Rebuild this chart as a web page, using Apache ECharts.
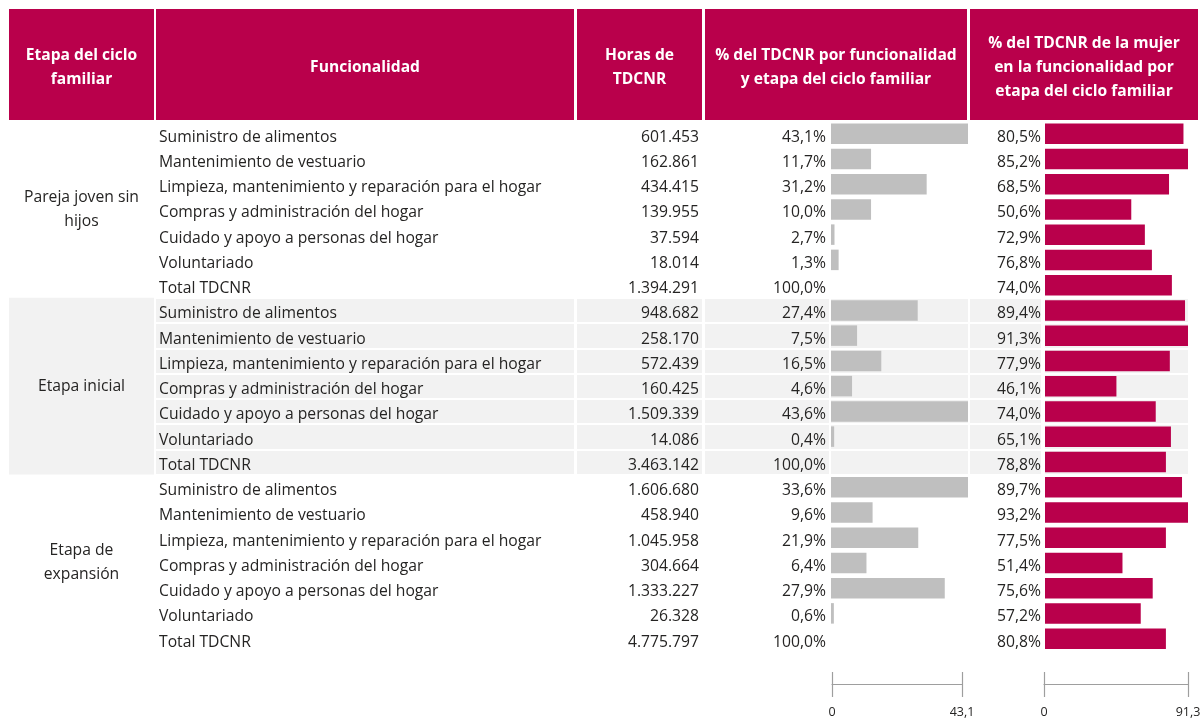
<!DOCTYPE html>
<html>
<head>
<meta charset="utf-8">
<script src="https://cdn.jsdelivr.net/npm/echarts@6/dist/echarts.min.js"></script>
<style>
  html, body { margin: 0; padding: 0; background: #fff; }
  #chart { width: 1202px; height: 718px; }
</style>
</head>
<body>
<div id="chart"></div>
<script>
// datos
const encabezados = [
  'Etapa del ciclo\nfamiliar',
  'Funcionalidad',
  'Horas de\nTDCNR',
  '% del TDCNR por funcionalidad\ny etapa del ciclo familiar',
  '% del TDCNR de la mujer\nen la funcionalidad por\netapa del ciclo familiar'
];
const etapas = ['Pareja joven sin\nhijos', 'Etapa inicial', 'Etapa de\nexpansión'];
const funcionalidades = [
  'Suministro de alimentos',
  'Mantenimiento de vestuario',
  'Limpieza, mantenimiento y reparación para el hogar',
  'Compras y administración del hogar',
  'Cuidado y apoyo a personas del hogar',
  'Voluntariado',
  'Total TDCNR'
];
const horas = [
  [601453, 162861, 434415, 139955, 37594, 18014, 1394291],
  [948682, 258170, 572439, 160425, 1509339, 14086, 3463142],
  [1606680, 458940, 1045958, 304664, 1333227, 26328, 4775797]
];
const pctFuncionalidad = [
  [43.1, 11.7, 31.2, 10.0, 2.7, 1.3, 100.0],
  [27.4, 7.5, 16.5, 4.6, 43.6, 0.4, 100.0],
  [33.6, 9.6, 21.9, 6.4, 27.9, 0.6, 100.0]
];
const pctMujer = [
  [80.5, 85.2, 68.5, 50.6, 72.9, 76.8, 74.0],
  [89.4, 91.3, 77.9, 46.1, 74.0, 65.1, 78.8],
  [89.7, 93.2, 77.5, 51.4, 75.6, 57.2, 80.8]
];
// largo de las barras (escala propia de cada etapa)
const barraFuncionalidad = [
  [43.1, 12.6, 30.1, 12.6, 1.1, 2.4, null],
  [27.6, 8.3, 16.0, 6.7, 43.6, 1.0, null],
  [33.6, 10.2, 21.4, 8.7, 27.9, 0.7, null]
];
const barraMujer = [
  [82.5, 85.2, 73.9, 51.4, 59.5, 63.7, 75.6],
  [89.4, 91.3, 79.7, 45.6, 70.7, 80.4, 77.2],
  [89.3, 93.2, 78.8, 50.5, 70.2, 62.4, 78.8]
];
const ejeFuncionalidad = [0, 43.1];
const ejeMujer = [0, 91.3];

const ROSA = '#b9004b';
const GRIS = '#bfbfbf';
const FONDO = '#f2f2f2';
const TXT = '#252423';
const FONT = '"Open Sans", sans-serif';
const FS = 15.7;
const RH = 25.25;
const T0 = 121;
const GH = RH * 7;
const DY = 3.5; // el texto va un poco más abajo que el centro de la fila

const fmtHoras = (v) => String(v).replace(/\B(?=(\d{3})+(?!\d))/g, '.');
const fmtPct = (v) => v.toFixed(1).replace('.', ',') + '%';

const grid = [];
const xAxis = [];
const yAxis = [];
const series = [];

function addGrid(g, xa, ya) {
  grid.push(Object.assign({ outerBoundsMode: 'none', containLabel: false }, g));
  const i = grid.length - 1;
  xAxis.push(Object.assign({ gridIndex: i }, xa));
  yAxis.push(Object.assign({ gridIndex: i }, ya));
  return i;
}

const hiddenX = { type: 'value', show: false };

function rowAxis(data, shaded) {
  return {
    type: 'category', data, inverse: true,
    axisLine: { show: false }, axisTick: { show: false }, axisLabel: { show: false },
    splitLine: { show: shaded, interval: 0, lineStyle: { color: '#fff', width: 2 } }
  };
}

function textAxis(data, position, align, margin) {
  return {
    type: 'category', data, inverse: true, position,
    axisLine: { show: false }, axisTick: { show: false }, splitLine: { show: false },
    axisLabel: {
      interval: 0, align, margin,
      color: TXT, fontSize: FS, fontFamily: FONT, lineHeight: 24
    }
  };
}

// celdas: [left, width]
const celdas = [[9, 145], [156, 418], [577, 125], [705, 124], [831, 137], [970, 71], [1045, 143]];

etapas.forEach((etapa, g) => {
  const top = T0 + g * GH;
  const shaded = g === 1;

  // fondo de las celdas
  if (shaded) {
    celdas.forEach(([left, width], c) => {
      addGrid({ left, width, top, height: GH, show: true, backgroundColor: FONDO, borderWidth: 0 },
        hiddenX, rowAxis(c === 0 ? [etapa] : funcionalidades, c !== 0));
    });
  }

  // etapa
  addGrid({ left: 9, width: 145, top, height: GH }, hiddenX,
    textAxis([etapa], 'left', 'center', -72.5));
  // funcionalidad
  addGrid({ left: 156, width: 418, top: top + DY, height: GH }, hiddenX,
    textAxis(funcionalidades, 'left', 'left', -3));
  // horas
  addGrid({ left: 577, width: 125, top: top + DY, height: GH }, hiddenX,
    textAxis(horas[g].map(fmtHoras), 'right', 'right', -3));
  // % por funcionalidad
  addGrid({ left: 705, width: 124, top: top + DY, height: GH }, hiddenX,
    textAxis(pctFuncionalidad[g].map(fmtPct), 'right', 'right', -3));
  // % mujer
  addGrid({ left: 970, width: 71, top: top + DY, height: GH }, hiddenX,
    textAxis(pctMujer[g].map(fmtPct), 'right', 'right', 0));

  // barras grises
  const maxF = Math.max(...barraFuncionalidad[g].filter((v) => v != null));
  const iF = addGrid({ left: 831, width: 137, top, height: GH },
    { type: 'value', min: 0, max: maxF, show: false },
    rowAxis(funcionalidades, false));
  series.push({
    type: 'bar', xAxisIndex: iF, yAxisIndex: iF, silent: true,
    barWidth: 20.5, itemStyle: { color: GRIS },
    data: barraFuncionalidad[g]
  });
  // barras rosadas
  const maxM = Math.max(...barraMujer[g]);
  const iM = addGrid({ left: 1045, width: 143, top, height: GH },
    { type: 'value', min: 0, max: maxM, show: false },
    rowAxis(funcionalidades, false));
  series.push({
    type: 'bar', xAxisIndex: iM, yAxisIndex: iM, silent: true,
    barWidth: 20.5, itemStyle: { color: ROSA },
    data: barraMujer[g]
  });
});

// ejes inferiores
function bottomAxis(left, width, range) {
  addGrid({ left, width, top: 672, height: 25 },
    {
      type: 'value', min: range[0], max: range[1], interval: range[1] - range[0],
      axisLine: { onZero: true, lineStyle: { color: '#9e9e9e', width: 1.2 } },
      axisTick: { show: false },
      splitLine: { show: true, lineStyle: { color: '#9e9e9e', width: 1.2 } },
      axisLabel: {
        show: true, showMinLabel: true, showMaxLabel: true, hideOverlap: false,
        margin: 8, color: TXT, fontSize: 12.5, lineHeight: 14, fontFamily: FONT,
        formatter: (v) => String(v).replace('.', ',')
      }
    },
    { type: 'value', min: -1, max: 1, show: false });
}
bottomAxis(832, 130, ejeFuncionalidad);
bottomAxis(1044, 144, ejeMujer);

// encabezado
const colHead = [[9, 145], [156, 418], [577, 125], [705, 262], [970, 228]];
const graphic = encabezados.map((t, i) => ({
  type: 'group',
  silent: true,
  children: [
    { type: 'rect', shape: { x: colHead[i][0], y: 9, width: colHead[i][1], height: 111 }, style: { fill: ROSA } },
    {
      type: 'text', x: colHead[i][0] + colHead[i][1] / 2, y: 67.5,
      style: {
        text: t, fill: '#fff', fontSize: 15.6, fontWeight: 'bold', fontFamily: FONT,
        align: 'center', verticalAlign: 'middle', lineHeight: 24
      }
    }
  ]
}));

const chart = echarts.init(document.getElementById('chart'));
chart.setOption({
  animation: false,
  backgroundColor: '#fff',
  grid, xAxis, yAxis, series, graphic
});
</script>
</body>
</html>
